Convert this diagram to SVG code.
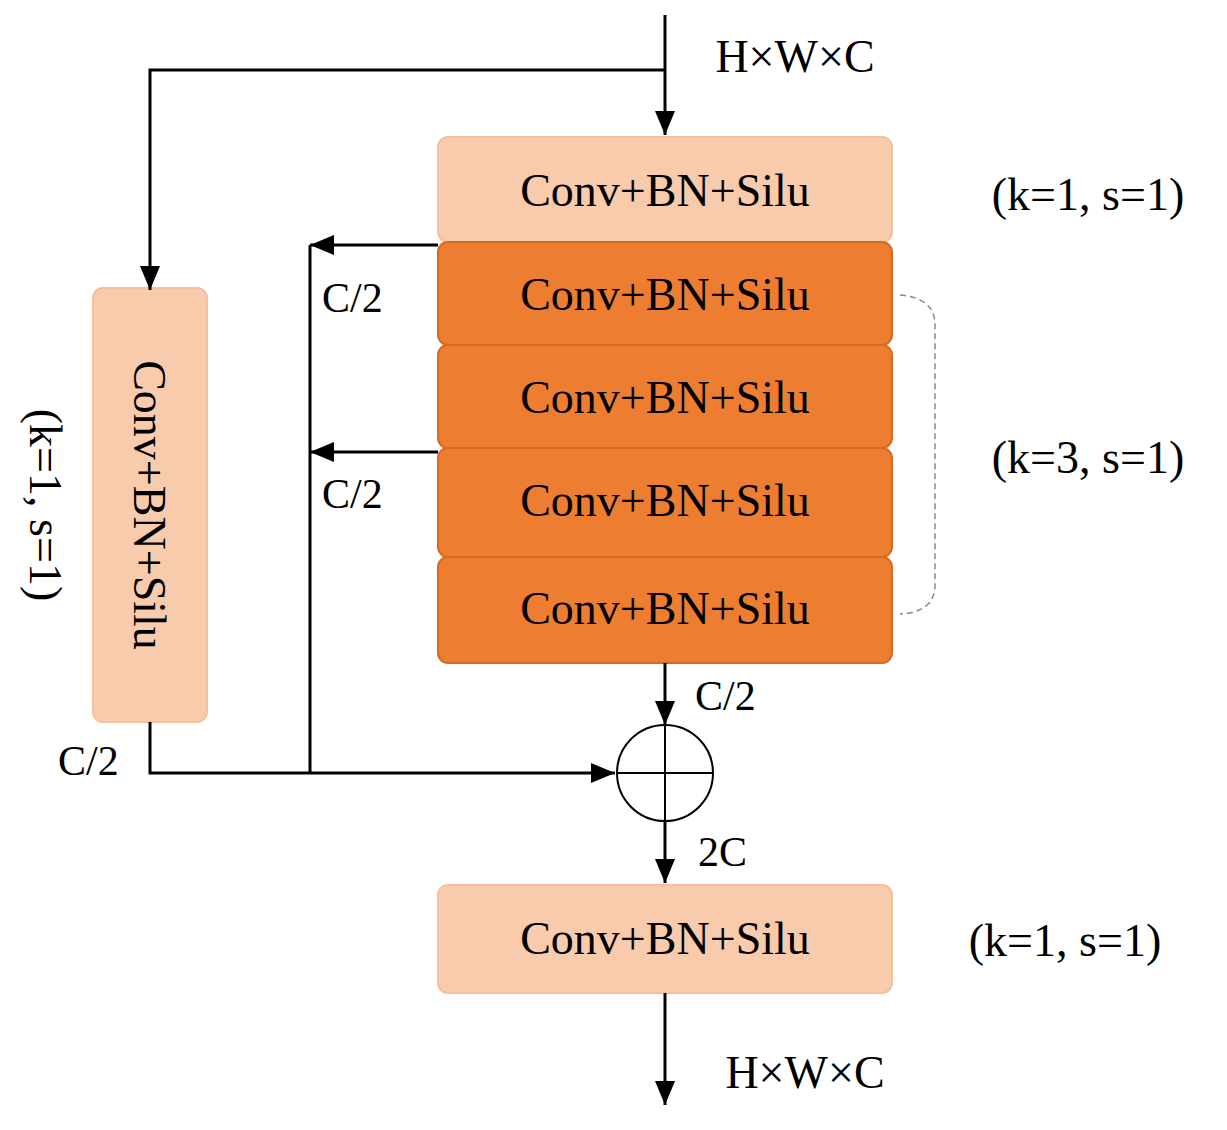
<svg xmlns="http://www.w3.org/2000/svg" width="1227" height="1130" viewBox="0 0 1227 1130">
<style>
text{font-family:"Liberation Serif","Times New Roman",serif;fill:#000}
.t{font-size:46px;text-anchor:middle}
.l{font-size:42px}
.light{fill:#F8CBAD;stroke:#F4C0A0;stroke-width:2}
.dark{fill:#ED7D31;stroke:#D86A20;stroke-width:2}
.c{stroke:#000;stroke-width:3;fill:none}
</style>
<defs><marker id="a" markerWidth="10" markerHeight="10" refX="9" refY="5" orient="auto" markerUnits="userSpaceOnUse" viewBox="0 0 10 10"><path d="M0,0L10,5L0,10z" fill="#000"/></marker>
<marker id="b" markerWidth="24" markerHeight="24" refX="24" refY="12" orient="auto" markerUnits="userSpaceOnUse" viewBox="0 0 24 24"><path d="M0,2L24,12L0,22z" fill="#000"/></marker></defs>
<rect width="1227" height="1130" fill="#fff"/>
<g id="n1"><rect class="light" x="438" y="137" width="454" height="105" rx="10"/><text class="t" x="665" y="206">Conv+BN+Silu</text></g>
<g id="n2"><rect class="dark" x="438" y="242" width="454" height="103" rx="10"/><text class="t" x="665" y="310">Conv+BN+Silu</text></g>
<g id="n3"><rect class="dark" x="438" y="345" width="454" height="103" rx="10"/><text class="t" x="665" y="413">Conv+BN+Silu</text></g>
<g id="n4"><rect class="dark" x="438" y="448" width="454" height="109" rx="10"/><text class="t" x="665" y="516">Conv+BN+Silu</text></g>
<g id="n5"><rect class="dark" x="438" y="557" width="454" height="106" rx="10"/><text class="t" x="665" y="624">Conv+BN+Silu</text></g>
<g id="n6"><rect class="light" x="93" y="288" width="114" height="434" rx="10"/><text class="t" transform="translate(134,505) rotate(90)">Conv+BN+Silu</text></g>
<g id="n7"><rect class="light" x="438" y="885" width="454" height="108" rx="10"/><text class="t" x="665" y="954">Conv+BN+Silu</text></g>
<g id="sum"><circle cx="665" cy="773" r="48" fill="#fff" stroke="#000" stroke-width="2"/><path d="M617,773H713M665,725V821" stroke="#000" stroke-width="2"/></g>
<g id="connectors">
<path class="c" d="M665,15V135" marker-end="url(#b)"/>
<path class="c" d="M665,70H150V290" marker-end="url(#b)"/>
<path class="c" d="M438,245H310" marker-end="url(#b)"/>
<path class="c" d="M438,452H310" marker-end="url(#b)"/>
<path class="c" d="M310,245V773"/>
<path class="c" d="M150,722V773H615" marker-end="url(#b)"/>
<path class="c" d="M665,663V725" marker-end="url(#b)"/>
<path class="c" d="M665,821V883" marker-end="url(#b)"/>
<path class="c" d="M665,993V1105" marker-end="url(#b)"/>
<path d="M900,295Q935,298 935,325V585Q935,612 900,614" fill="none" stroke="#888" stroke-width="1.5" stroke-dasharray="6,4"/>
</g>
<g id="labels">
<text class="t" x="795" y="72">H×W×C</text>
<text class="t" x="1088" y="210">(k=1, s=1)</text>
<text class="t" x="1088" y="473">(k=3, s=1)</text>
<text class="t" x="1065" y="956">(k=1, s=1)</text>
<text class="t" x="805" y="1088">H×W×C</text>
<text class="t" transform="translate(30,505) rotate(90)">(k=1, s=1)</text>
<text class="l" x="322" y="312">C/2</text>
<text class="l" x="322" y="508">C/2</text>
<text class="l" x="695" y="710">C/2</text>
<text class="l" x="58" y="775">C/2</text>
<text class="l" x="698" y="866">2C</text>
</g>
</svg>
